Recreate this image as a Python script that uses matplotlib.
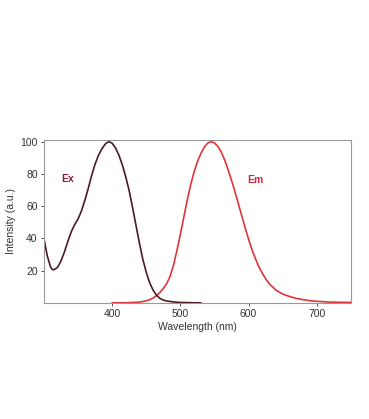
import matplotlib
matplotlib.use('Agg')
import matplotlib.pyplot as plt

plt.rcParams['font.family'] = ['Liberation Sans', 'DejaVu Sans']

# excitation spectrum
ex_wl = [300, 305, 310, 313, 315, 320, 325, 330, 335, 340, 345, 350, 355, 360,
         365, 370, 375, 380, 385, 390, 395, 400, 405, 410, 415, 420, 425, 430,
         435, 440, 445, 450, 455, 460, 465, 470, 475, 480, 490, 500, 510, 520, 530]
ex_int = [40, 29, 22, 20.5, 20.7, 22, 26, 31.5, 38, 44, 48.5, 52, 57, 63.5,
          71, 79, 86, 91.5, 95.5, 98.5, 100, 99, 96, 91.5, 85.5, 78, 69.5, 59,
          48, 37, 27, 19, 12.5, 8, 4.8, 2.8, 1.8, 1.2, 0.6, 0.3, 0.2, 0.1, 0.05]

# emission spectrum
em_wl = [400, 420, 440, 450, 455, 460, 465, 470, 475, 480, 485, 490, 495, 500,
         505, 510, 515, 520, 525, 530, 535, 540, 545, 550, 555, 560, 565, 570,
         575, 580, 585, 590, 595, 600, 605, 610, 615, 620, 625, 630, 640, 650,
         660, 670, 680, 690, 700, 720, 750]
em_int = [0, 0.1, 0.5, 1.3, 2, 3, 4.5, 6.5, 9, 12, 16.5, 23.5, 32.5, 42.5,
          53, 63.5, 73, 81, 87.5, 92.5, 96.5, 99, 100, 99.2, 97, 93.5, 88.5, 82.5,
          76, 69, 61.5, 54, 46.5, 39.5, 33, 27.5, 22.5, 18.5, 15, 12, 8, 5.5,
          4, 2.8, 2, 1.4, 1, 0.5, 0.3]

x_ticks = [400, 500, 600, 700]
y_ticks = [20, 40, 60, 80, 100]

fig = plt.figure(figsize=(3.69, 4.19), dpi=100)
fig.patch.set_facecolor('white')
ax = fig.add_axes([0.119, 0.277, 0.832, 0.389])

ax.plot(em_wl, em_int, color='#e0343a', lw=1.2)
ax.plot(ex_wl, ex_int, color='#4d1a22', lw=1.2)

ax.text(335, 77, 'Ex', color='#8b1d3b', fontsize=7.5, weight='bold', ha='center', va='center')
ax.text(610, 76, 'Em', color='#d9283c', fontsize=7.5, weight='bold', ha='center', va='center')

ax.set_xlim(300, 750)
ax.set_ylim(0, 101)
ax.set_xticks(x_ticks)
ax.set_yticks(y_ticks)
ax.tick_params(labelsize=7.5, colors='#333333', length=2.5, width=0.6, pad=2)
for s in ax.spines.values():
    s.set_color('#999999')
    s.set_linewidth(0.8)

ax.set_xlabel('Wavelength (nm)', fontsize=7.5, color='#333333', labelpad=2)
ax.set_ylabel('Intensity (a.u.)', fontsize=7.5, color='#333333', labelpad=3)

plt.savefig('out.png', dpi=100, facecolor='white')
plt.close()
